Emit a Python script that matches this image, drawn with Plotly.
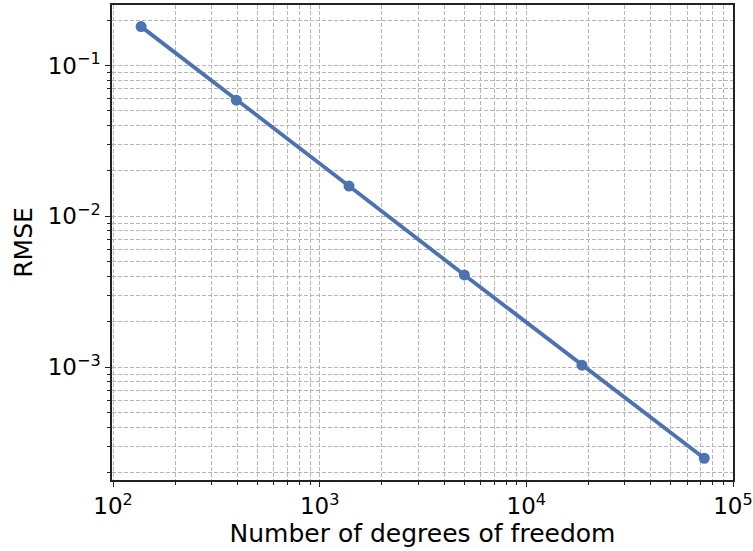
import plotly.graph_objects as go

# Convergence data: error vs. problem size
dofs = [136.7, 395, 1386, 5012, 18580, 72600]
rmse = [0.181, 0.0589, 0.01588, 0.00409, 0.00103, 0.000249]

x_major = [1e2, 1e3, 1e4, 1e5]
x_major_text = ["10<sup>2</sup>", "10<sup>3</sup>", "10<sup>4</sup>", "10<sup>5</sup>"]
y_major = [1e-3, 1e-2, 1e-1]
y_major_text = ["10<sup>\u22123</sup>", "10<sup>\u22122</sup>", "10<sup>\u22121</sup>"]

x_minor = [m * 10 ** e for e in (2, 3, 4) for m in range(2, 10)]
y_minor = [m * 10 ** e for e in (-4, -3, -2, -1) for m in range(2, 10)]

LINE_COLOR = "#4c72b0"
GRID_COLOR = "#b5b5b5"
AXIS_COLOR = "#222222"
FONT = "DejaVu Sans"

fig = go.Figure()
fig.add_trace(go.Scatter(
    x=dofs, y=rmse, mode="lines+markers",
    line=dict(color=LINE_COLOR, width=3.8),
    marker=dict(color=LINE_COLOR, size=11),
    showlegend=False,
))

common = dict(
    type="log",
    showline=True, mirror=True, linecolor=AXIS_COLOR, linewidth=1.5,
    ticks="outside", ticklen=5, tickwidth=1.2, tickcolor=AXIS_COLOR,
    showgrid=True, gridcolor=GRID_COLOR, gridwidth=1, griddash="4px,2px",
    zeroline=False,
    tickfont=dict(family=FONT, size=23, color="#000000"),
    tickmode="array",
)

fig.update_xaxes(
    **common,
    range=[1.995, 5.0],
    tickvals=x_major, ticktext=x_major_text,
    minor=dict(tickvals=x_minor, ticks="outside", ticklen=3, tickcolor=AXIS_COLOR,
               showgrid=True, gridcolor=GRID_COLOR, gridwidth=1, griddash="4px,2px"),
    title=dict(text="Number of degrees of freedom",
               font=dict(family=FONT, size=25, color="#000000"), standoff=6),
)
fig.update_yaxes(
    **common,
    range=[-3.748, -0.599],
    tickvals=y_major, ticktext=y_major_text,
    minor=dict(tickvals=y_minor, ticks="outside", ticklen=3, tickcolor=AXIS_COLOR,
               showgrid=True, gridcolor=GRID_COLOR, gridwidth=1, griddash="4px,2px"),
    title=dict(text="RMSE", font=dict(family=FONT, size=25, color="#000000"), standoff=8),
)

fig.update_layout(
    width=753, height=551,
    margin=dict(l=112, r=20, t=5, b=71, autoexpand=False),
    plot_bgcolor="#ffffff", paper_bgcolor="#ffffff",
    font=dict(family=FONT),
)

fig.write_html("out.html")
